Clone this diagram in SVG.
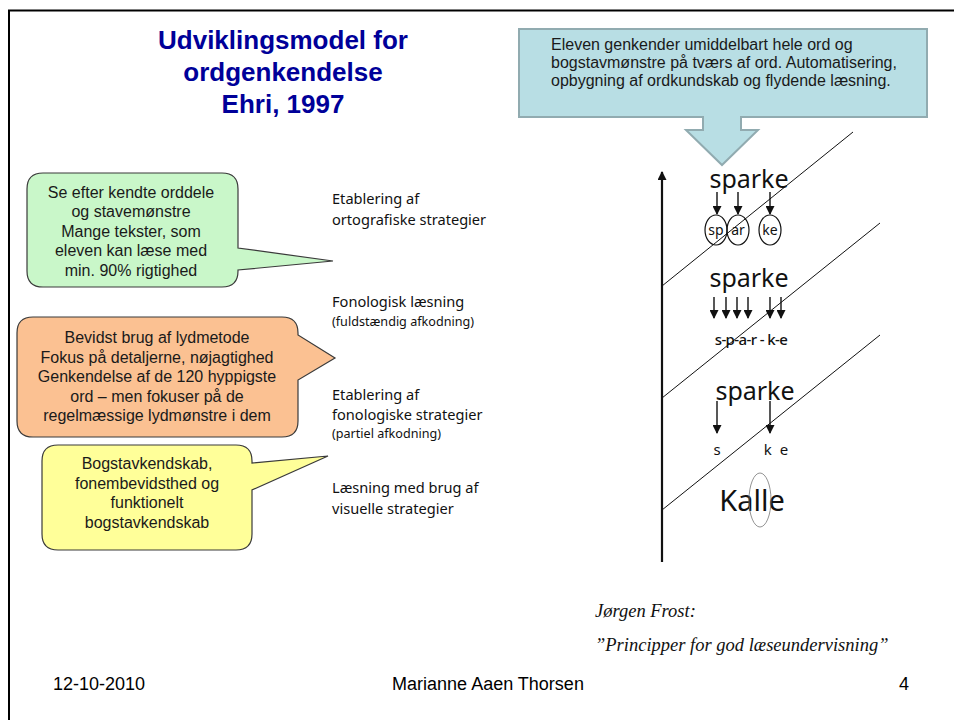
<svg xmlns="http://www.w3.org/2000/svg" width="954" height="720" viewBox="0 0 954 720">
<defs>
<style>
.title{font-family:"Liberation Sans",Arial,sans-serif;font-weight:bold;font-size:26px;fill:#000099;text-anchor:middle}
.call{font-family:"Liberation Sans",Arial,sans-serif;font-size:16px;fill:#1a1a1a;text-anchor:middle}
.blue{font-family:"Liberation Sans",Arial,sans-serif;font-size:16px;fill:#1a1a1a}
.stage{font-family:"Noto Sans","Open Sans",sans-serif;font-size:14.6px;fill:#111}
.small{font-family:"Noto Sans","Open Sans",sans-serif;font-size:12.6px;fill:#111}
.word{font-family:"Noto Sans","Open Sans",sans-serif;fill:#111}
.cite{font-family:"Liberation Serif","Times New Roman",serif;font-style:italic;font-size:18.5px;fill:#111}
.foot{font-family:"Liberation Sans",Arial,sans-serif;font-size:18px;fill:#000}
.bubble{stroke:#3a3a3a;stroke-width:1.2}
.ax{stroke:#111;fill:none}
.oval{fill:none;stroke:#111;stroke-width:1.2}
</style>
<marker id="ah" viewBox="0 0 10 10" refX="9" refY="5" markerWidth="10" markerHeight="9" orient="auto" markerUnits="userSpaceOnUse">
<path d="M0,0 L10,5 L0,10 Z" fill="#111"/>
</marker>
<marker id="ah2" viewBox="0 0 10 10" refX="9" refY="5" markerWidth="11" markerHeight="9" orient="auto" markerUnits="userSpaceOnUse">
<path d="M0,0 L10,5 L0,10 Z" fill="#111"/>
</marker>
</defs>
<rect width="954" height="720" fill="#fff"/>
<g id="frame">
<line x1="8" y1="10.5" x2="954" y2="10.5" stroke="#000" stroke-width="2"/>
<line x1="9" y1="10" x2="9" y2="720" stroke="#000" stroke-width="2"/>
</g>
<g id="title">
<text class="title" x="283" y="49">Udviklingsmodel for</text>
<text class="title" x="283" y="81">ordgenkendelse</text>
<text class="title" x="283" y="113">Ehri, 1997</text>
</g>
<g id="blue-callout">
<path d="M519,29 H927 V117 H741 V130 H758 L722,165 L686,130 H703 V117 H519 Z" fill="#b8dee4" stroke="#91abb0" stroke-width="2"/>
<text class="blue" x="551" y="50">Eleven genkender umiddelbart hele ord og</text>
<text class="blue" x="551" y="68">bogstavmønstre på tværs af ord. Automatisering,</text>
<text class="blue" x="551" y="86">opbygning af ordkundskab og flydende læsning.</text>
</g>
<g id="green-callout">
<path class="bubble" fill="#c9f7c9" d="M43,173 H222 Q238,173 238,189 V248 L333,261 L238,270 V271 Q238,287 222,287 H43 Q27,287 27,271 V189 Q27,173 43,173 Z"/>
<text class="call" x="131" y="198">Se efter kendte orddele</text>
<text class="call" x="131" y="217">og stavemønstre</text>
<text class="call" x="131" y="237">Mange tekster, som</text>
<text class="call" x="131" y="256">eleven kan læse med</text>
<text class="call" x="131" y="276">min. 90% rigtighed</text>
</g>
<g id="orange-callout">
<path class="bubble" fill="#fbc192" d="M33,317 H282 Q298,317 298,333 V335 L335,358 L298,380 V421 Q298,437 282,437 H33 Q17,437 17,421 V333 Q17,317 33,317 Z"/>
<text class="call" x="157" y="343">Bevidst brug af lydmetode</text>
<text class="call" x="157" y="363">Fokus på detaljerne, nøjagtighed</text>
<text class="call" x="157" y="382">Genkendelse af de 120 hyppigste</text>
<text class="call" x="157" y="402">ord – men fokuser på de</text>
<text class="call" x="157" y="421">regelmæssige lydmønstre i dem</text>
</g>
<g id="yellow-callout">
<path class="bubble" fill="#ffff99" d="M58,445 H236 Q252,445 252,461 V463 L328,456 L252,490 V534 Q252,550 236,550 H58 Q42,550 42,534 V461 Q42,445 58,445 Z"/>
<text class="call" x="147" y="469">Bogstavkendskab,</text>
<text class="call" x="147" y="489">fonembevidsthed og</text>
<text class="call" x="147" y="508">funktionelt</text>
<text class="call" x="147" y="528">bogstavkendskab</text>
</g>
<g id="stages">
<text class="stage" x="332" y="204">Etablering af</text>
<text class="stage" x="332" y="225">ortografiske strategier</text>
<text class="stage" x="332" y="307">Fonologisk læsning</text>
<text class="small" x="332" y="326">(fuldstændig afkodning)</text>
<text class="stage" x="332" y="400">Etablering af</text>
<text class="stage" x="332" y="420">fonologiske strategier</text>
<text class="small" x="332" y="438">(partiel afkodning)</text>
<text class="stage" x="332" y="493">Læsning med brug af</text>
<text class="stage" x="332" y="514">visuelle strategier</text>
</g>
<g id="connectors">
<line class="ax" x1="662" y1="562" x2="662" y2="172" stroke-width="2.2" marker-end="url(#ah2)"/>
<line class="ax" x1="662" y1="286" x2="853" y2="132" stroke-width="1"/>
<line class="ax" x1="662" y1="398" x2="880" y2="223" stroke-width="1"/>
<line class="ax" x1="662" y1="510" x2="880" y2="335" stroke-width="1"/>
<g stroke="#111" stroke-width="1.4" marker-end="url(#ah)">
<line x1="717" y1="192" x2="717" y2="214"/>
<line x1="738" y1="192" x2="738" y2="214"/>
<line x1="770" y1="192" x2="770" y2="214"/>
<line x1="714" y1="297" x2="714" y2="318"/>
<line x1="726" y1="297" x2="726" y2="318"/>
<line x1="737" y1="297" x2="737" y2="318"/>
<line x1="748" y1="297" x2="748" y2="318"/>
<line x1="770" y1="297" x2="770" y2="318"/>
<line x1="781" y1="297" x2="781" y2="318"/>
<line x1="717" y1="401" x2="717" y2="433"/>
<line x1="770" y1="401" x2="770" y2="433"/>
</g>
</g>
<g id="model">
<text class="word" x="749" y="188" font-size="25" text-anchor="middle">sparke</text>
<ellipse class="oval" cx="716" cy="230" rx="11" ry="15"/>
<ellipse class="oval" cx="738" cy="230" rx="11" ry="15"/>
<ellipse class="oval" cx="770" cy="230" rx="11" ry="15"/>
<text class="word" x="716" y="235" font-size="14" text-anchor="middle">sp</text>
<text class="word" x="738" y="235" font-size="14" text-anchor="middle">ar</text>
<text class="word" x="770" y="235" font-size="14" text-anchor="middle">ke</text>
<text class="word" x="749" y="287" font-size="25" text-anchor="middle">sparke</text>
<text class="word" x="751" y="345" font-size="15" font-weight="500" text-anchor="middle" letter-spacing="-0.6">s-p-a-r - k-e</text>
<text class="word" x="755" y="400" font-size="25" text-anchor="middle">sparke</text>
<text class="word" x="717" y="455" font-size="15" text-anchor="middle">s</text>
<text class="word" x="777" y="455" font-size="15" text-anchor="middle" letter-spacing="2">k e</text>
<text class="word" x="752" y="511" font-size="29" text-anchor="middle">Kalle</text>
<ellipse cx="760" cy="500" rx="11" ry="27" fill="none" stroke="#777" stroke-width="0.8"/>
</g>
<g id="citation">
<text class="cite" x="595" y="617">Jørgen Frost:</text>
<text class="cite" x="595" y="651">”Principper for god læseundervisning”</text>
</g>
<g id="footer">
<text class="foot" x="53" y="690">12-10-2010</text>
<text class="foot" x="488" y="690" text-anchor="middle">Marianne Aaen Thorsen</text>
<text class="foot" x="909" y="690" text-anchor="end">4</text>
</g>
</svg>
